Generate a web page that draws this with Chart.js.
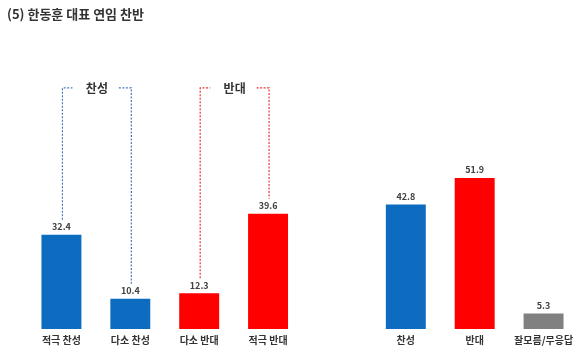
<!DOCTYPE html>
<html>
<head>
<meta charset="utf-8">
<script src="https://cdn.jsdelivr.net/npm/chart.js@4"></script>
<style>
  html, body { margin: 0; padding: 0; background: #fff; }
  #wrap { width: 580px; height: 361px; }
</style>
</head>
<body>
<div id="wrap"><canvas id="myChart" width="580" height="361"></canvas></div>
<script>
// categories (empty slot separates the two groups)
const labels = ['적극 찬성', '다소 찬성', '다소 반대', '적극 반대', '', '찬성', '반대', '잘모름/무응답'];
const values = [32.4, 10.4, 12.3, 39.6, null, 42.8, 51.9, 5.3];
const barColors = ['#0e6cc0', '#0e6cc0', '#ff0000', '#ff0000', '#ffffff', '#0e6cc0', '#ff0000', '#808080'];
// brackets over the left group: [from index, to index, text]
const brackets = [[0, 1, '찬성'], [2, 3, '반대']];
const bracketColors = ['#4b78b4', '#e8373a'];

const font = '"Noto Sans CJK KR", "Noto Sans", sans-serif';

const extras = {
  id: 'extras',
  afterDatasetsDraw(chart) {
    const ctx = chart.ctx;
    const x = chart.scales.x, y = chart.scales.y;
    ctx.save();
    // value labels
    ctx.font = 'bold 9px ' + font;
    ctx.fillStyle = '#404040';
    ctx.textAlign = 'center';
    ctx.textBaseline = 'middle';
    values.forEach((v, i) => {
      if (v == null) return;
      ctx.fillText(v.toFixed(1), x.getPixelForValue(i), y.getPixelForValue(v) - 8);
    });
    // dashed brackets
    const top = y.getPixelForValue(82.8);
    brackets.forEach((b, k) => {
      const x1 = x.getPixelForValue(b[0]) + 1;
      const x2 = x.getPixelForValue(b[1]) + 1;
      const mid = (x1 + x2) / 2;
      ctx.strokeStyle = bracketColors[k];
      ctx.lineWidth = 1.2;
      ctx.setLineDash([2, 1.5]);
      ctx.beginPath();
      ctx.moveTo(x1, y.getPixelForValue(values[b[0]]) - 15);
      ctx.lineTo(x1, top);
      ctx.lineTo(x1 + 10, top);
      ctx.moveTo(mid + 22, top);
      ctx.lineTo(x2, top);
      ctx.lineTo(x2, y.getPixelForValue(values[b[1]]) - 15);
      ctx.stroke();
      ctx.setLineDash([]);
      ctx.font = 'bold 12px ' + font;
      ctx.fillStyle = '#333';
      ctx.fillText(b[2], mid, top);
    });
    ctx.restore();
  }
};

const ctx = document.getElementById('myChart').getContext('2d');
new Chart(ctx, {
  type: 'bar',
  data: {
    labels: labels,
    datasets: [{
      data: values,
      backgroundColor: barColors,
      barPercentage: 0.58,
      categoryPercentage: 1
    }]
  },
  options: {
    responsive: false,
    animation: false,
    layout: { padding: { left: 7, right: 2, top: 0, bottom: 10 } },
    plugins: {
      legend: { display: false },
      tooltip: { enabled: false },
      title: {
        display: true,
        text: '(5) 한동훈 대표 연임 찬반',
        align: 'start',
        color: '#333',
        font: { family: font, size: 13, weight: 'bold' },
        padding: { top: 6, bottom: 45.4 }
      }
    },
    scales: {
      x: {
        grid: { display: false, drawTicks: false, tickLength: 0 },
        border: { display: false },
        ticks: {
          color: '#333',
          padding: 5,
          maxRotation: 0,
          autoSkip: false,
          font: { family: font, size: 10, weight: 'bold' }
        }
      },
      y: {
        min: 0,
        max: 90,
        grid: { display: false, drawTicks: false },
        border: { display: false },
        ticks: { display: false },
        afterFit: s => { s.width = 20; }
      }
    }
  },
  plugins: [extras]
});
</script>
</body>
</html>
